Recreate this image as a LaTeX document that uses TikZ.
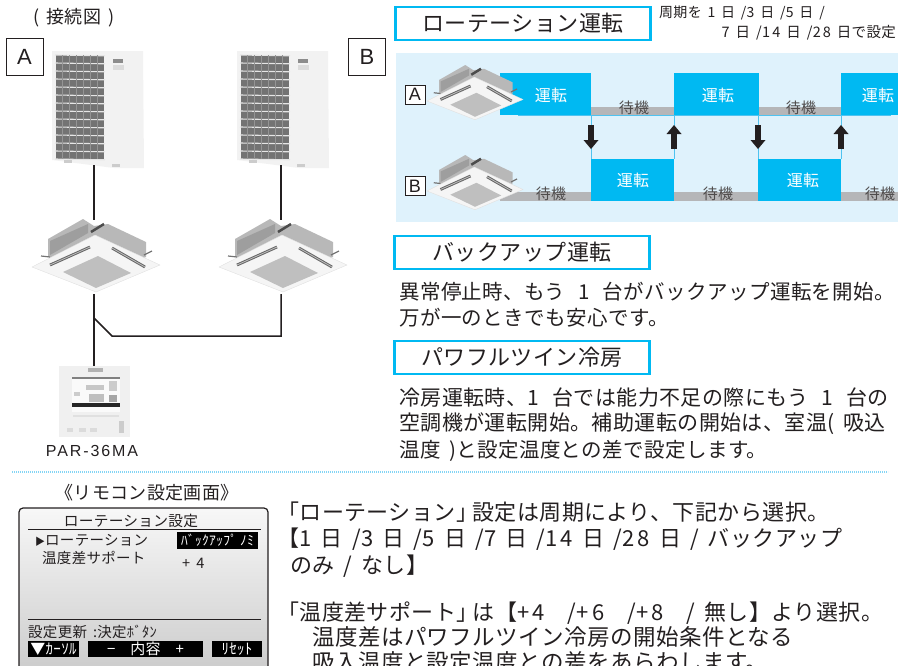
\documentclass[tikz,border=0pt]{standalone}
\usepackage{fontspec}
\setmainfont[LetterSpace=2,WordSpace=1.7]{Noto Sans CJK JP}
\newfontfamily\latfont[LetterSpace=12]{Liberation Sans}
\newfontfamily\plainlat{Liberation Sans}
\definecolor{ink}{HTML}{231F20}
\definecolor{cyanbar}{HTML}{00B9F2}
\definecolor{band}{HTML}{DFF2FC}
\definecolor{standby}{HTML}{B5B6B8}
\definecolor{thinblue}{HTML}{4FC3F0}
\newcommand{\fs}[1]{\fontsize{#1}{#1}\selectfont}
\newcommand{\rb}{」\kern-6pt\relax}
\newcommand{\wsp}{\hspace{13pt}}
\tikzset{
  txt/.style={anchor=base west,inner sep=0pt,text=ink,font=\fs{20.5}},
  txtwide/.style={txt,font=\fs{21}},
  big/.style={txt,font=\fs{22}},
  bigger/.style={txt,font=\fs{22.5}},
  lcd/.style={txt,font=\fs{14.5}},
  titlebox/.style={draw=cyanbar,line width=2.5pt,fill=white,minimum width=255pt,minimum height=33pt,inner sep=0pt,text=ink,font=\fs{22}},
  letterbox/.style={draw=ink,line width=.9pt,fill=white,minimum width=37pt,minimum height=37pt,inner sep=0pt,text=ink,font=\plainlat\fs{22}},
  smallbox/.style={draw=ink,line width=.8pt,fill=white,minimum width=20pt,minimum height=19pt,inner sep=0pt,text=ink,font=\plainlat\fs{18}},
  runblock/.style={fill=cyanbar,draw=none,inner sep=0pt},
  runlabel/.style={inner sep=0pt,text=white,font=\fs{16}},
  waitlabel/.style={inner sep=0pt,text=ink!80,font=\fs{15}},
  wire/.style={draw=ink,line width=1.5pt,line join=miter},
  lcdbtn/.style={fill=black,inner sep=0pt,text=white,minimum height=16pt,font=\fs{15}},
  switcharrow/.style={fill=ink,draw=none},
}
\newcommand{\outdoorunit}[2]{%
  \begin{scope}[shift={(#1,#2)}]
    \fill[black!5] (0,1) -- (91,1) -- (92,118) -- (62,118) -- (0,110) -- cycle;
    \fill[black!55] (4,5) rectangle (52,109);
    \foreach \yy in {5,13,...,109}{\draw[black!10,line width=1.1pt] (3,\yy) -- (53,\yy+.8);}
    \foreach \xx in {10,17,...,50}{\draw[black!42,line width=.5pt] (\xx,5) -- (\xx,109);}
    \fill[black!45] (61,9) rectangle (71,13);
    \fill[black!14] (61,15) rectangle (72,20);
    \fill[black!20] (12,110) rectangle (20,113);
    \fill[black!20] (60,114) rectangle (68,117);
  \end{scope}}
\newcommand{\cassette}[3]{%
  \begin{scope}[shift={(#1,#2)},scale=#3]
    \fill[black!28] (20,24) -- (55,4) -- (66,11) -- (80,9) -- (118,27) -- (118,42) -- (68,62) -- (20,42) -- cycle;
    \fill[black!38] (22,26) -- (60,9) -- (60,18) -- (22,40) -- cycle;
    \draw[black!70,line width=2.5pt] (63,17) -- (76,9);
    \draw[black!55,line width=1.2pt] (13,41) -- (22,42);
    \draw[black!55,line width=1.2pt] (116,40) -- (124,36);
    \fill[black!4,draw=black!12,line width=.4pt] (4,52) -- (67,20) -- (132,50) -- (68,77) -- cycle;
    \draw[black!60,line width=2.8pt] (22,50) -- (62,32);
    \draw[black!25,line width=.8pt] (22,50) -- (62,32);
    \draw[black!60,line width=2.8pt] (84,33) -- (117,52);
    \draw[black!25,line width=.8pt] (84,33) -- (117,52);
    \fill[black!25] (35,57) -- (70,41) -- (103,58) -- (68,73) -- cycle;
  \end{scope}}
\newcommand{\remotepic}[2]{%
  \begin{scope}[shift={(#1,#2)}]
    \fill[black!6] (0,0) rectangle (71,71);
    \fill[black!30] (29,2) rectangle (44,6);
    \fill[black!2] (13,11) rectangle (61,46);
    \fill[black!50] (13,11) rectangle (61,13);
    \fill[black!20] (15,26) rectangle (21,30);
    \fill[black!22] (27,19) rectangle (45,24);
    \fill[black!25] (30,28) rectangle (45,36);
    \fill[black!20] (50,15) rectangle (58,25);
    \fill[black!35] (50,29) rectangle (58,36);
    \fill[black!85] (13,37) rectangle (61,41);
    \fill[black!12] (14,49) rectangle (60,51);
    \fill[black!14] (8,62) rectangle (14,66);
    \fill[black!14] (20,62) rectangle (27,66);
    \fill[black!14] (31,62) rectangle (38,66);
    \fill[black!20] (60,55) rectangle (65,67);
  \end{scope}}
\begin{document}
\begin{tikzpicture}[x=1pt,y=-1pt]
\useasboundingbox (0,0) rectangle (898,665);
\clip (0,0) rectangle (898,665);
% left wiring diagram
\node[inner sep=0pt,text=ink,font=\fs{18}] (wiringtitle) at (74,18) {( 接続図 )};
\node[letterbox] (labelA) at (24.5,56.5) {A};
\node[letterbox] (labelB) at (367,56.5) {B};
\outdoorunit{52}{50}
\outdoorunit{237}{50}
\cassette{28}{215}{1}
\cassette{215}{215}{1}
\remotepic{59}{366}
\coordinate (outA) at (94,165);
\coordinate (outB) at (281,165);
\coordinate (inAtop) at (94,220);
\coordinate (inBtop) at (281,220);
\coordinate (inAbot) at (94,294);
\coordinate (inBbot) at (281,294);
\coordinate (remote) at (94,366);
\coordinate (tee) at (94,318);
\coordinate (bendA) at (112,336);
\coordinate (bendB) at (281,336);
\draw[wire] (outA) -- (inAtop);
\draw[wire] (outB) -- (inBtop);
\draw[wire] (inAbot) -- (remote);
\draw[wire] (tee) -- (bendA) -- (bendB) -- (inBbot);
\node[inner sep=0pt,text=ink,font=\latfont\fs{16}] (model) at (92,451) {PAR-36MA};
% rotation
\node[titlebox] (rotbox) at (523,23.5) {ローテーション運転};
\node[txt,font=\fs{14}] (cycle1) at (659,17) {周期を 1 日 /3 日 /5 日 /};
\node[txt,font=\fs{14.5},anchor=base east] (cycle2) at (896,37) {7 日 /1\kern2pt 4 日 /2\kern2pt 8 日で設定};
\fill[band] (396,53) rectangle (898,222);
\fill[standby] (591,107) rectangle (674,116);
\fill[standby] (759,107) rectangle (841,116);
\fill[standby] (500,192) rectangle (591,201);
\fill[standby] (674,192) rectangle (758,201);
\fill[standby] (841,192) rectangle (898,201);
\fill[runblock] (500,73) rectangle (591,115);
\fill[runblock] (674,73) rectangle (759,115);
\fill[runblock] (841,73) rectangle (898,115);
\fill[runblock] (591,159) rectangle (674,201);
\fill[runblock] (758,159) rectangle (841,201);
\draw[thinblue,line width=.7pt] (518,115.5) -- (891,115.5);
\foreach \xx in {591,674,758,841}{\draw[thinblue,line width=.8pt] (\xx,115) -- (\xx,159);}
\fill[switcharrow] (588.2,125) rectangle (593.8,140);
\fill[switcharrow] (583.5,140) -- (598.5,140) -- (591,149) -- cycle;
\fill[switcharrow] (755.2,125) rectangle (760.8,140);
\fill[switcharrow] (750.5,140) -- (765.5,140) -- (758,149) -- cycle;
\fill[switcharrow] (671.2,134) rectangle (676.8,149);
\fill[switcharrow] (666.5,134) -- (681.5,134) -- (674,125) -- cycle;
\fill[switcharrow] (838.2,134) rectangle (843.8,149);
\fill[switcharrow] (833.5,134) -- (848.5,134) -- (841,125) -- cycle;
\cassette{424}{62}{.75}
\cassette{424}{152}{.75}
\node[smallbox] (rowA) at (415,94.5) {A};
\node[smallbox] (rowB) at (415,186) {B};
\node[runlabel] (run1) at (551,95) {運転};
\node[runlabel] (run2) at (718,95) {運転};
\node[runlabel] (run3) at (878,95) {運転};
\node[runlabel] (run4) at (633,180) {運転};
\node[runlabel] (run5) at (803,180) {運転};
\node[waitlabel] (wait1) at (634,108) {待機};
\node[waitlabel] (wait2) at (801,108) {待機};
\node[waitlabel] (wait3) at (551,194) {待機};
\node[waitlabel] (wait4) at (718,194) {待機};
\node[waitlabel] (wait5) at (880,194) {待機};
% backup & power
\node[titlebox] (backupbox) at (522,252.5) {バックアップ運転};
\node[txt] (b1) at (399,299) {異常停止時、もう\wsp 1\wsp 台がバックアップ運転を開始。};
\node[txt] (b2) at (399,325) {万が一のときでも安心です。};
\node[titlebox] (powerbox) at (522,357.5) {パワフルツイン冷房};
\node[txtwide] (p1) at (399,405) {冷房運転時、1\wsp 台では能力不足の際にもう\wsp 1\wsp 台の};
\node[txtwide] (p2) at (399,430) {空調機が運転開始。補助運転の開始は、室温( 吸込};
\node[txt] (p3) at (399,457) {温度 )と設定温度との差で設定します。};
% separator
\coordinate (sepL) at (12,472);
\coordinate (sepR) at (888,472);
\draw[thinblue!70,line width=2.5pt,dash pattern=on 1.2pt off .8pt] (sepL) -- (sepR);
% lcd
\node[inner sep=0pt,text=ink,font=\fs{18}] (lcdtitle) at (147,493) {《リモコン設定画面》};
\draw[ink,line width=1.2pt,rounded corners=4pt,top color=black!3,bottom color=black!22] (19,508) rectangle (268,690);
\node[inner sep=0pt,text=ink,font=\fs{14.7}] (lcdhead) at (131,521) {ローテーション設定};
\draw[ink,line width=.9pt] (28,529) -- (261,529);
\node[lcd] (lcdrot) at (35,545) {{\fs{10}▶}ローテーション};
\node[lcd] (lcdtemp) at (42,563) {温度差サポート};
\node[fill=black,inner sep=0pt,minimum width=81pt,minimum height=17pt,text=white,font=\fs{13.5}] (lcdval) at (217.5,540.5) {ﾊﾞｯｸｱｯﾌﾟ\kern3pt ﾉﾐ};
\node[lcd] (lcdplus) at (182,568) {+ 4};
\draw[ink,line width=.9pt] (28,619) -- (261,619);
\node[lcd] (lcdupd) at (28,637) {設定更新 :決定ﾎﾞﾀﾝ};
\node[lcdbtn,minimum width=51pt] (btn1) at (53.5,649) {▼ｶｰｿﾙ};
\node[lcdbtn,minimum width=115pt] (btn2) at (145.5,649) {−\hspace{1em}内容\hspace{1em}+};
\node[lcdbtn,minimum width=50pt] (btn3) at (237,649) {ﾘｾｯﾄ};
% bottom text
\node[big] (t1) at (277,520) {「ローテーション\rb 設定は周期により、下記から選択。};
\node[big] (t2) at (277,546) {【1 日 /3 日 /5 日 /7 日 /1\kern3pt 4 日 /2\kern3pt 8 日 / バックアップ};
\node[big] (t3) at (290,573) {のみ / なし】};
\node[big] (t4) at (277,620) {「温度差サポート\rb は【+\kern3pt 4　/+\kern3pt 6　/+\kern3pt 8　/ 無し】より選択。};
\node[bigger] (t5) at (312,645) {温度差はパワフルツイン冷房の開始条件となる};
\node[bigger] (t6) at (312,670) {吸入温度と設定温度との差をあらわします。};
\end{tikzpicture}
\end{document}
